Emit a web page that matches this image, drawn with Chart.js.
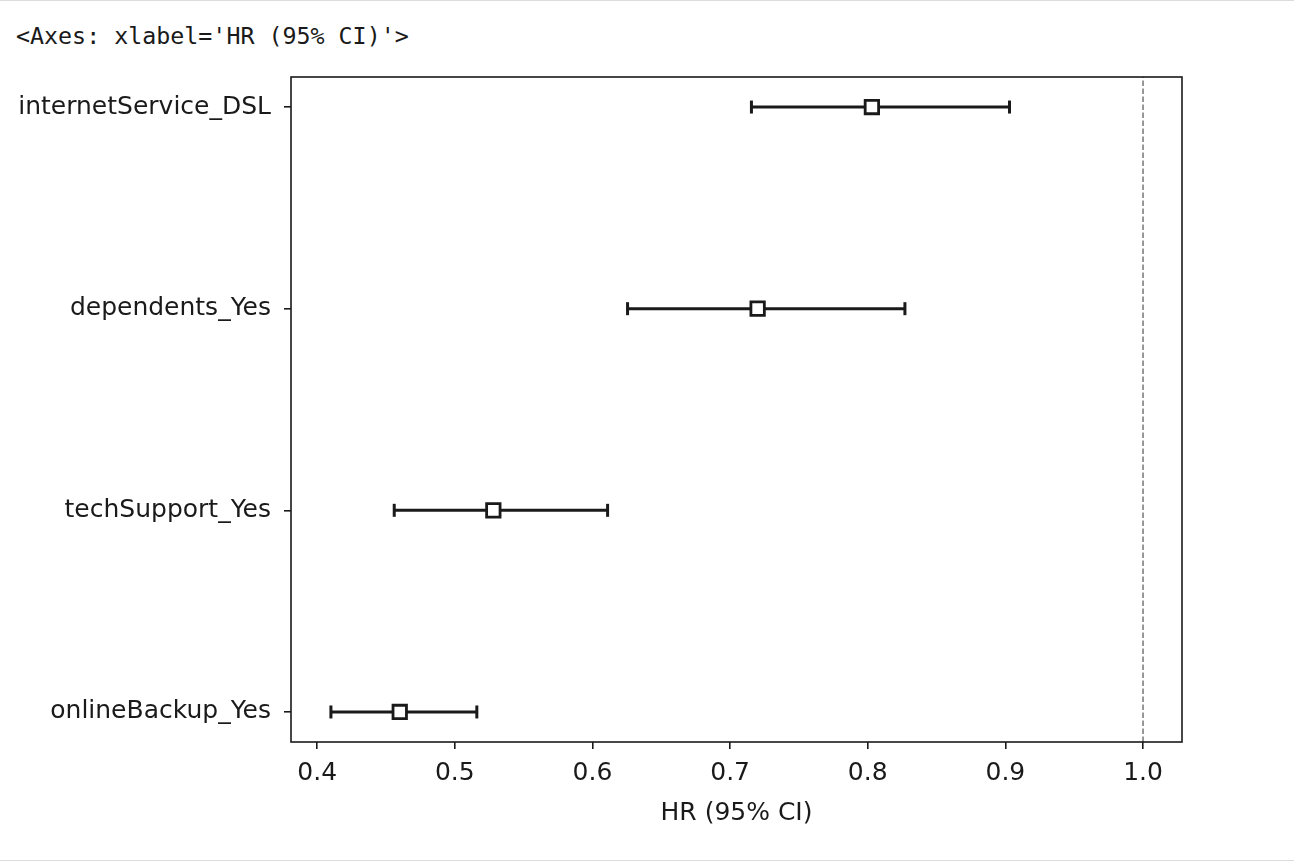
<!DOCTYPE html>
<html>
<head>
<meta charset="utf-8">
<script src="https://cdn.jsdelivr.net/npm/chart.js@4.4.0/dist/chart.umd.min.js"></script>
<style>
  body { margin: 0; background: #fff; }
  #wrap { position: relative; width: 1294px; height: 862px; overflow: hidden; }
  #topline { position: absolute; left: 0; top: 0; width: 1294px; height: 1px; background: #dcdcdc; }
  #bottomline { position: absolute; left: 0; top: 860px; width: 1294px; height: 1px; background: #dcdcdc; }
  #header { position: absolute; left: 16px; top: 21px; font-family: "DejaVu Sans Mono", monospace; font-size: 23.3px; line-height: 30px; color: #1a1a1a; white-space: pre; }
  canvas { position: absolute; left: 0; top: 0; }
</style>
</head>
<body>
<div id="wrap">
  <div id="topline"></div>
  <div id="header">&lt;Axes: xlabel='HR (95% CI)'&gt;</div>
  <canvas id="forest" width="1294" height="862"></canvas>
  <div id="bottomline"></div>
</div>
<script>
// covariates, bottom to top
const features = ["onlineBackup_Yes", "techSupport_Yes", "dependents_Yes", "internetService_DSL"];
const hazardRatio = [0.460, 0.528, 0.720, 0.803];
const ciLower = [0.410, 0.456, 0.6255, 0.7155];
const ciUpper = [0.516, 0.611, 0.827, 0.903];
const xTicks = [0.4, 0.5, 0.6, 0.7, 0.8, 0.9, 1.0];
const refValue = 1.0;

const ink = "#1a1a1a";
const labelFont = { family: "DejaVu Sans", size: 25 };

const markerSet = {
  data: hazardRatio.map((v, i) => ({ x: v, y: i })),
  pointStyle: "rect",
  pointRadius: 9.5,
  pointBackgroundColor: "#fff",
  pointBorderColor: ink,
  pointBorderWidth: 2.8,
  showLine: false,
};

const ciSets = features.map((f, i) => ({
  data: [{ x: ciLower[i], y: i }, { x: ciUpper[i], y: i }],
  showLine: true,
  borderColor: ink,
  borderWidth: 3,
  pointStyle: "line",
  pointRotation: 90,
  pointRadius: 6.5,
  pointBorderColor: ink,
  pointBorderWidth: 3,
}));

const refSet = {
  data: [{ x: refValue, y: -0.149 }, { x: refValue, y: 3.149 }],
  showLine: true,
  borderColor: "#808080",
  borderWidth: 1.6,
  borderDash: [5.5, 2.5],
  pointRadius: 0,
};

const boxPlugin = {
  id: "box",
  afterDraw(chart) {
    const { ctx, chartArea } = chart;
    ctx.save();
    ctx.strokeStyle = ink;
    ctx.lineWidth = 1.6;
    ctx.strokeRect(chartArea.left, chartArea.top, chartArea.right - chartArea.left, chartArea.bottom - chartArea.top);
    ctx.restore();
  },
};

new Chart(document.getElementById("forest").getContext("2d"), {
  type: "scatter",
  data: { datasets: [markerSet, ...ciSets, refSet] },
  options: {
    responsive: false,
    animation: false,
    layout: { padding: { left: 0, top: 77, right: 112, bottom: 0 } },
    plugins: { legend: { display: false }, tooltip: { enabled: false } },
    scales: {
      x: {
        type: "linear",
        min: 0.381,
        max: 1.0283,
        afterBuildTicks: (axis) => { axis.ticks = xTicks.map((v) => ({ value: v })); },
        afterFit: (axis) => { axis.height = 120; },
        grid: { drawOnChartArea: false, drawTicks: true, tickLength: 7, color: ink, lineWidth: 1.6 },
        border: { display: false },
        ticks: {
          color: ink,
          padding: 9,
          font: labelFont,
          callback: (v) => Number(v).toFixed(1),
        },
        title: {
          display: true,
          text: "HR (95% CI)",
          color: ink,
          font: labelFont,
          padding: { top: 4, bottom: 34 },
        },
      },
      y: {
        type: "linear",
        min: -0.149,
        max: 3.149,
        afterBuildTicks: (axis) => { axis.ticks = features.map((f, i) => ({ value: i })); },
        afterFit: (axis) => { axis.width = 291; },
        grid: { drawOnChartArea: false, drawTicks: true, tickLength: 7, color: ink, lineWidth: 1.6 },
        border: { display: false },
        ticks: {
          color: ink,
          padding: 13,
          font: labelFont,
          callback: (v) => features[v],
        },
      },
    },
  },
  plugins: [boxPlugin],
});
</script>
</body>
</html>
